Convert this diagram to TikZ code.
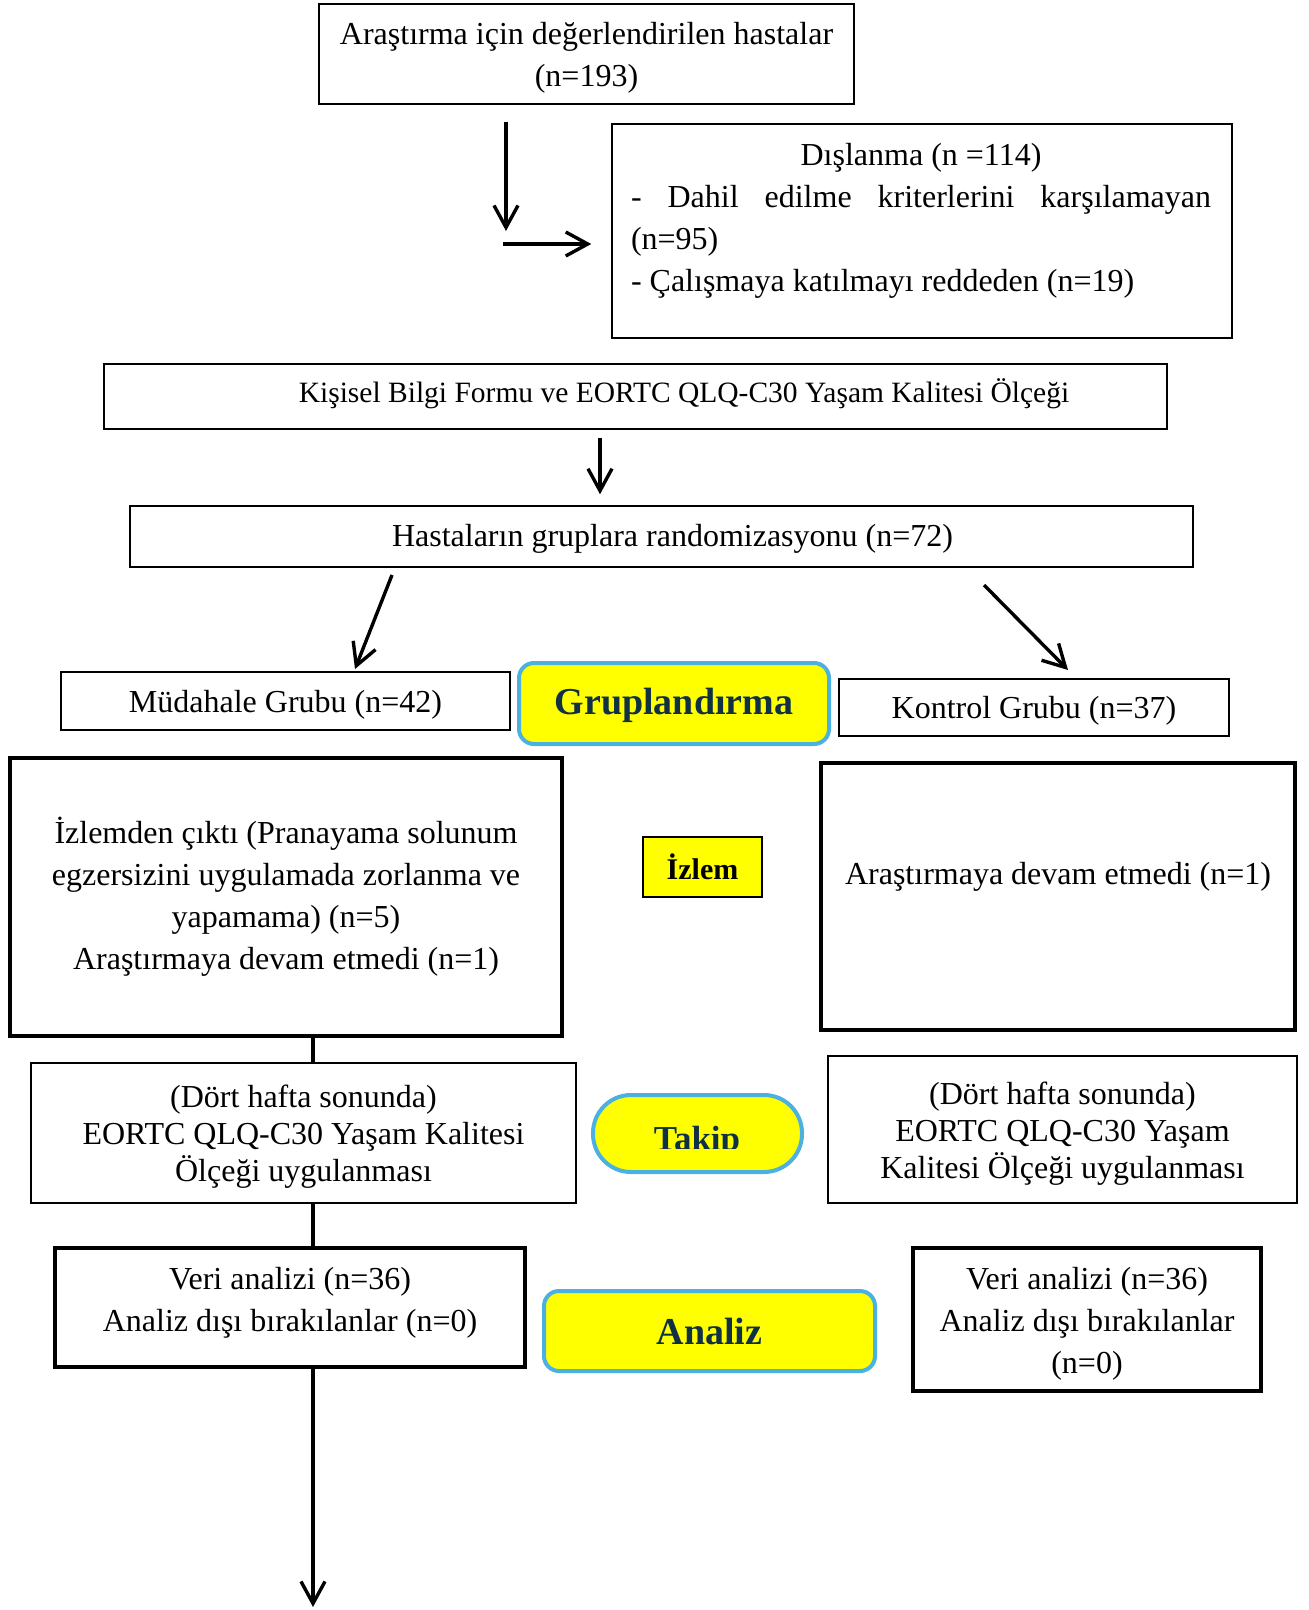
\documentclass[tikz,border=0pt]{standalone}
\usepackage{fontspec}
\setmainfont{Liberation Serif}
\usetikzlibrary{arrows.meta,calc}
\definecolor{tagblue}{RGB}{75,176,226}
\definecolor{tagtext}{RGB}{16,48,68}
\definecolor{tagyellow}{RGB}{255,255,0}
\tikzset{
  box/.style={draw, line width=0.75pt, inner sep=0pt},
  heavybox/.style={box, line width=1.6pt},
  tagbox/.style={draw=tagblue, line width=2pt, fill=tagyellow, rounded corners=7.5pt, inner sep=0pt, text=tagtext, font=\fontsize{19pt}{22pt}\selectfont\bfseries},
  arr/.style={line width=1.7pt, -{Straight Barb[length=11pt,width=12pt]}},
  link/.style={line width=1.8pt},
  plain/.style={inner sep=0pt, align=center, font=\fontsize{16pt}{21pt}\selectfont},
  tight/.style={plain, font=\fontsize{16pt}{18.5pt}\selectfont},
}
\begin{document}
\begin{tikzpicture}[x=0.5pt,y=-0.5pt]
\useasboundingbox (0,0) rectangle (1309,1610);

% top
\node[box, minimum width=267.5pt, minimum height=50pt] (top) at (586.5,54) {};
\node[plain] (toptxt) at (586.5,58) {Araştırma için değerlendirilen hastalar\\(n=193)};

% exclusion
\node[box, minimum width=310pt, minimum height=107pt] (excl) at (922,231) {};
\node[plain, text width=290pt, align=justify] (excltxt) at (921,221) {\parindent=0pt\hyphenpenalty=10000\exhyphenpenalty=10000
\centerline{Dışlanma (n =114)}
- Dahil edilme kriterlerini karşılamayan (n=95)\par
- Çalışmaya katılmayı reddeden (n=19)};

% Kisisel
\node[box, minimum width=531.5pt, minimum height=32.5pt] (kis) at (635.5,396.5) {};
\node[plain, font=\fontsize{14.75pt}{18pt}\selectfont] (kistxt) at (684,393.5) {Kişisel Bilgi Formu ve EORTC QLQ-C30 Yaşam Kalitesi Ölçeği};

% randomization
\node[box, minimum width=531.5pt, minimum height=30.5pt] (rand) at (661.5,536.5) {};
\node[plain] (randtxt) at (672.5,538.5) {Hastaların gruplara randomizasyonu (n=72)};

% groups
\node[box, minimum width=224.5pt, minimum height=29pt] (mud) at (285.5,701) {};
\node[plain] (mudtxt) at (285.5,705) {Müdahale Grubu (n=42)};
\node[tagbox, minimum width=155pt, minimum height=40.5pt] (grp) at (674,703.5) {};
\node[inner sep=0pt, text=tagtext, font=\fontsize{19pt}{22pt}\selectfont\bfseries] (grptxt) at (674,705.5) {Gruplandırma};
\node[box, minimum width=195pt, minimum height=28.5pt] (kon) at (1034,707.5) {};
\node[plain] (kontxt) at (1034,710.5) {Kontrol Grubu (n=37)};

% follow-up
\node[heavybox, minimum width=276pt, minimum height=139pt] (izl) at (286,897) {};
\node[plain] (izltxt) at (286,897) {İzlemden çıktı (Pranayama solunum\\egzersizini uygulamada zorlanma ve\\yapamama) (n=5)\\Araştırmaya devam etmedi (n=1)};
\node[draw, line width=0.9pt, fill=tagyellow, inner sep=0pt, minimum width=59.5pt, minimum height=30pt, font=\fontsize{15pt}{18pt}\selectfont\bfseries] (izlem) at (702.5,867) {İzlem};
\node[heavybox, minimum width=237pt, minimum height=133.5pt] (izr) at (1058,896.5) {};
\node[plain] (izrtxt) at (1058,877) {Araştırmaya devam etmedi (n=1)};

% four weeks
\node[box, minimum width=272.5pt, minimum height=70pt] (dl) at (303.5,1133) {};
\node[tight] (dltxt) at (303.5,1137) {(Dört hafta sonunda)\\EORTC QLQ-C30 Yaşam Kalitesi\\Ölçeği uygulanması};
\node[tagbox, rounded corners=19pt, minimum width=104.5pt, minimum height=38.5pt] (takip) at (697.5,1133.5) {};
\begin{scope}
\clip (593,1095) rectangle (802,1148);
\node[anchor=base, inner sep=0pt, text=tagtext, font=\fontsize{17.5pt}{20pt}\selectfont\bfseries] (takiptxt) at (697,1150) {Takip};
\end{scope}
\node[box, minimum width=234.5pt, minimum height=73.5pt] (dr) at (1062.5,1129.5) {};
\node[tight] (drtxt) at (1062.5,1134) {(Dört hafta sonunda)\\EORTC QLQ-C30 Yaşam\\Kalitesi Ölçeği uygulanması};

% analysis
\node[heavybox, minimum width=235pt, minimum height=59.5pt] (vl) at (290,1307.5) {};
\node[plain] (vltxt) at (290,1303) {Veri analizi (n=36)\\Analiz dışı bırakılanlar (n=0)};
\node[tagbox, minimum width=165.5pt, minimum height=40pt] (an) at (709.5,1331) {Analiz};
\node[heavybox, minimum width=174pt, minimum height=71.5pt] (vr) at (1087,1319.5) {};
\node[plain] (vrtxt) at (1087,1324) {Veri analizi (n=36)\\Analiz dışı bırakılanlar\\(n=0)};

% connectors
\coordinate (v1end) at (506,231);
\coordinate (h1start) at (503,244);
\draw[arr, shorten <=8.5pt] (top.south -| 506,0) -- (v1end);
\draw[arr, shorten >=10pt] (h1start) -- (excl.west |- h1start);
\draw[arr, shorten <=4pt, shorten >=5.5pt] (kis.south -| 600,0) -- (rand.north -| 600,0);

\coordinate (dls) at (392,575);
\coordinate (dle) at (355,669);
\coordinate (drs) at (984,585);
\coordinate (dre) at (1068,670);
\draw[arr] (dls) -- (dle);
\draw[arr] (drs) -- (dre);

\coordinate (endc) at (313,1607);
\draw[link] (izl.south -| 313,0) -- (dl.north -| 313,0);
\draw[link] (dl.south -| 313,0) -- (vl.north -| 313,0);
\draw[arr] (vl.south -| 313,0) -- (endc);
\end{tikzpicture}
\end{document}
